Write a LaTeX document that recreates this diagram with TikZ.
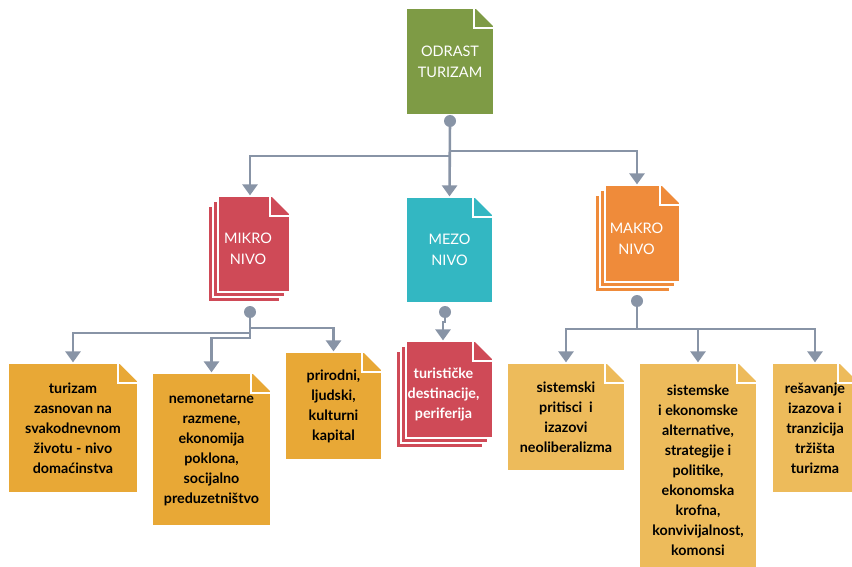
\documentclass[tikz,border=0pt]{standalone}
\usepackage{fontspec}
\setmainfont{Lato}
\usepackage{tikz}
\usetikzlibrary{positioning,calc,shadows,arrows.meta}

\definecolor{odrastgreen}{HTML}{7E9B45}
\definecolor{mikrored}{HTML}{CF4A57}
\definecolor{mezoteal}{HTML}{33B7C2}
\definecolor{makroorange}{HTML}{EF8B3A}
\definecolor{leafdark}{HTML}{E8A836}
\definecolor{leaflight}{HTML}{EDBB5B}
\definecolor{linegray}{HTML}{8894A6}

\begin{document}
\begin{tikzpicture}[x=1pt,y=-1pt,
    sheet/.style={rectangle, draw=white, line width=1.2pt, inner sep=0pt,
        align=center, text=white, font=\fontsize{14.5}{21}\selectfont,
        path picture={
            \fill[white] ([shift={(1pt,1pt)}]path picture bounding box.north east) -- ++(-21pt,0) -- ++(21pt,-21pt) -- cycle;
            \draw[white, line width=1.2pt]
            ([xshift=-20pt]path picture bounding box.north east) -- ++(0,-20pt) -- ++(20pt,0);}},
    stack/.style={double copy shadow={shadow xshift=-5pt, shadow yshift=-5pt}},
    stacklabel/.style={xshift=-6pt, yshift=-5pt, align=center, text=white},
    leaf/.style={sheet, text=black, font=\bfseries\fontsize{14.3}{20}\selectfont},
    dot/.style={circle, fill=linegray, minimum size=12pt, inner sep=0pt},
    conn/.style={draw=linegray, line width=2.6pt, -{Triangle[width=15pt,length=11pt]}}]

    \useasboundingbox (0,0) rectangle (852,567);

    % top
    \node[sheet, fill=odrastgreen, minimum width=88pt, minimum height=107pt] (odrast) at (450,61.5) {ODRAST\\TURIZAM};

    % levels
    \node[sheet, stack, fill=mikrored, minimum width=72pt, minimum height=96pt,
        label={[stacklabel, font=\fontsize{14.5}{21}\selectfont]center:MIKRO\\NIVO}] (mikro) at (254,244) {};
    \node[sheet, fill=mezoteal, minimum width=87pt, minimum height=106pt] (mezo) at (449.5,250) {MEZO\\NIVO};
    \node[sheet, stack, fill=makroorange, minimum width=75pt, minimum height=97pt,
        label={[stacklabel, font=\fontsize{14.5}{21}\selectfont]center:MAKRO\\NIVO}] (makro) at (642.5,233.5) {};

    % mikro
    \node[leaf, fill=leafdark, minimum width=130pt, minimum height=130pt] (domacinstvo) at (73,428)
        {turizam\\zasnovan na\\svakodnevnom\\životu - nivo\\domaćinstva};
    \node[leaf, fill=leafdark, minimum width=119pt, minimum height=153pt] (razmene) at (211.5,449.5)
        {nemonetarne\\razmene,\\ekonomija\\poklona,\\socijalno\\preduzetništvo};
    \node[leaf, fill=leafdark, minimum width=97pt, minimum height=108pt] (kapital) at (333.5,406)
        {prirodni,\\ljudski,\\kulturni\\kapital};

    % mezo
    \node[sheet, stack, fill=mikrored, minimum width=87pt, minimum height=97pt,
        label={[stacklabel, font=\bfseries\fontsize{14.3}{20}\selectfont]center:turističke\\destinacije,\\periferija}] (destinacije) at (449.5,389.5) {};

    % makro
    \node[leaf, fill=leaflight, minimum width=118pt, minimum height=108pt] (neolib) at (566,417)
        {sistemski\\pritisci~ i\\izazovi\\neoliberalizma};
    \node[leaf, fill=leaflight, minimum width=118pt, minimum height=215pt] (alternative) at (698,470.5)
        {sistemske\\i ekonomske\\alternative,\\strategije i\\politike,\\ekonomska\\krofna,\\konvivijalnost,\\komonsi};
    \node[leaf, fill=leaflight, minimum width=86pt, minimum height=130pt] (tranzicija) at (815,428)
        {rešavanje\\izazova i\\tranzicija\\tržišta\\turizma};

    % connectors
    \node[dot] (d1) at (450,121) {};
    \draw[conn] (d1.center) -- (mezo.north);
    \draw[conn] (d1.center) -- ++(0,35) -| ([xshift=-4pt]mikro.north);
    \draw[conn] (d1.center) -- ++(0,30) -| ([xshift=-5.5pt]makro.north);

    \node[dot] (d2) at (250,312) {};
    \draw[conn] (d2.center) -- ++(0,16) -| (kapital.north);
    \draw[conn] (d2.center) -- ++(0,21) -| (domacinstvo.north);
    \draw[conn] (d2.center) -- ++(0,26) -| (razmene.north);

    \node[dot] (d3) at (445,312) {};
    \draw[conn] (d3.center) -- ++(0,10) -| ([xshift=-6.5pt]destinacije.north);

    \node[dot] (d4) at (637,301) {};
    \draw[conn] (d4.center) -- ++(0,28) coordinate (mk) -| (neolib.north);
    \draw[conn] (mk) -| (alternative.north);
    \draw[conn] (mk) -| (tranzicija.north);
\end{tikzpicture}
\end{document}
